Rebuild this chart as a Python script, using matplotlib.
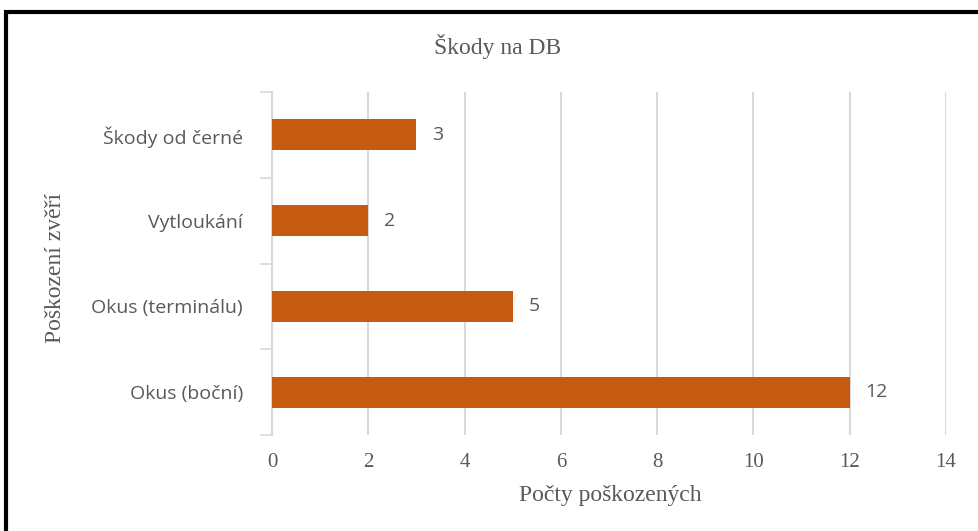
import matplotlib.pyplot as plt
from matplotlib.patches import Rectangle

categories = ["Okus (boční)", "Okus (terminálu)", "Vytloukání", "Škody od černé"]
counts = [12, 5, 2, 3]
xticks = [0, 2, 4, 6, 8, 10, 12, 14]

bar_color = "#C55A11"
text_color = "#595959"
grid_color = "#D9D9D9"

fig = plt.figure(figsize=(9.79, 5.31), dpi=100)
ax = fig.add_axes([0.2778, 0.1808, 0.6885, 0.6459])

ypos = range(len(categories))
ax.barh(ypos, counts, height=0.36, color=bar_color, zorder=3)
for y, v in zip(ypos, counts):
    ax.text(v + 0.33, y, str(v), va="center", ha="left", fontsize=14,
            color=text_color, family="Open Sans")

ax.set_xlim(0, 14)
ax.set_ylim(-0.5, len(categories) - 0.5)
ax.set_xticks(xticks)
ax.set_xticklabels([str(t) for t in xticks], family="Liberation Serif",
                   fontsize=15, color=text_color)
ax.tick_params(axis="x", length=0, pad=13)

# category labels centred on bars, tick marks between categories
ax.set_yticks(list(ypos))
ax.set_yticklabels(categories, family="Open Sans", fontsize=14, color=text_color)
ax.tick_params(axis="y", length=0, pad=21)
ax.set_yticks([i - 0.5 for i in range(len(categories) + 1)], minor=True)
ax.tick_params(axis="y", which="minor", length=9, width=1.2, color=grid_color)

ax.grid(axis="x", color=grid_color, linewidth=1.5, zorder=0)
for s in ["top", "right", "bottom"]:
    ax.spines[s].set_visible(False)
ax.spines["left"].set_color(grid_color)
ax.spines["left"].set_linewidth(1.5)

fig.text(0.508, 0.912, "Škody na DB", ha="center", va="center",
         family="Liberation Serif", fontsize=17, color=text_color)
fig.text(0.623, 0.066, "Počty poškozených", ha="center", va="center",
         family="Liberation Serif", fontsize=17, color=text_color)
fig.text(0.057, 0.495, "Poškození zvěří", ha="center", va="center", rotation=90,
         family="Liberation Serif", fontsize=17, color=text_color)

# black frame around the chart area
fig.patches.append(Rectangle((0.006, -0.05), 1.05, 1.027,
                             transform=fig.transFigure, fill=False,
                             edgecolor="black", linewidth=3))

fig.savefig("out.png", dpi=100)
